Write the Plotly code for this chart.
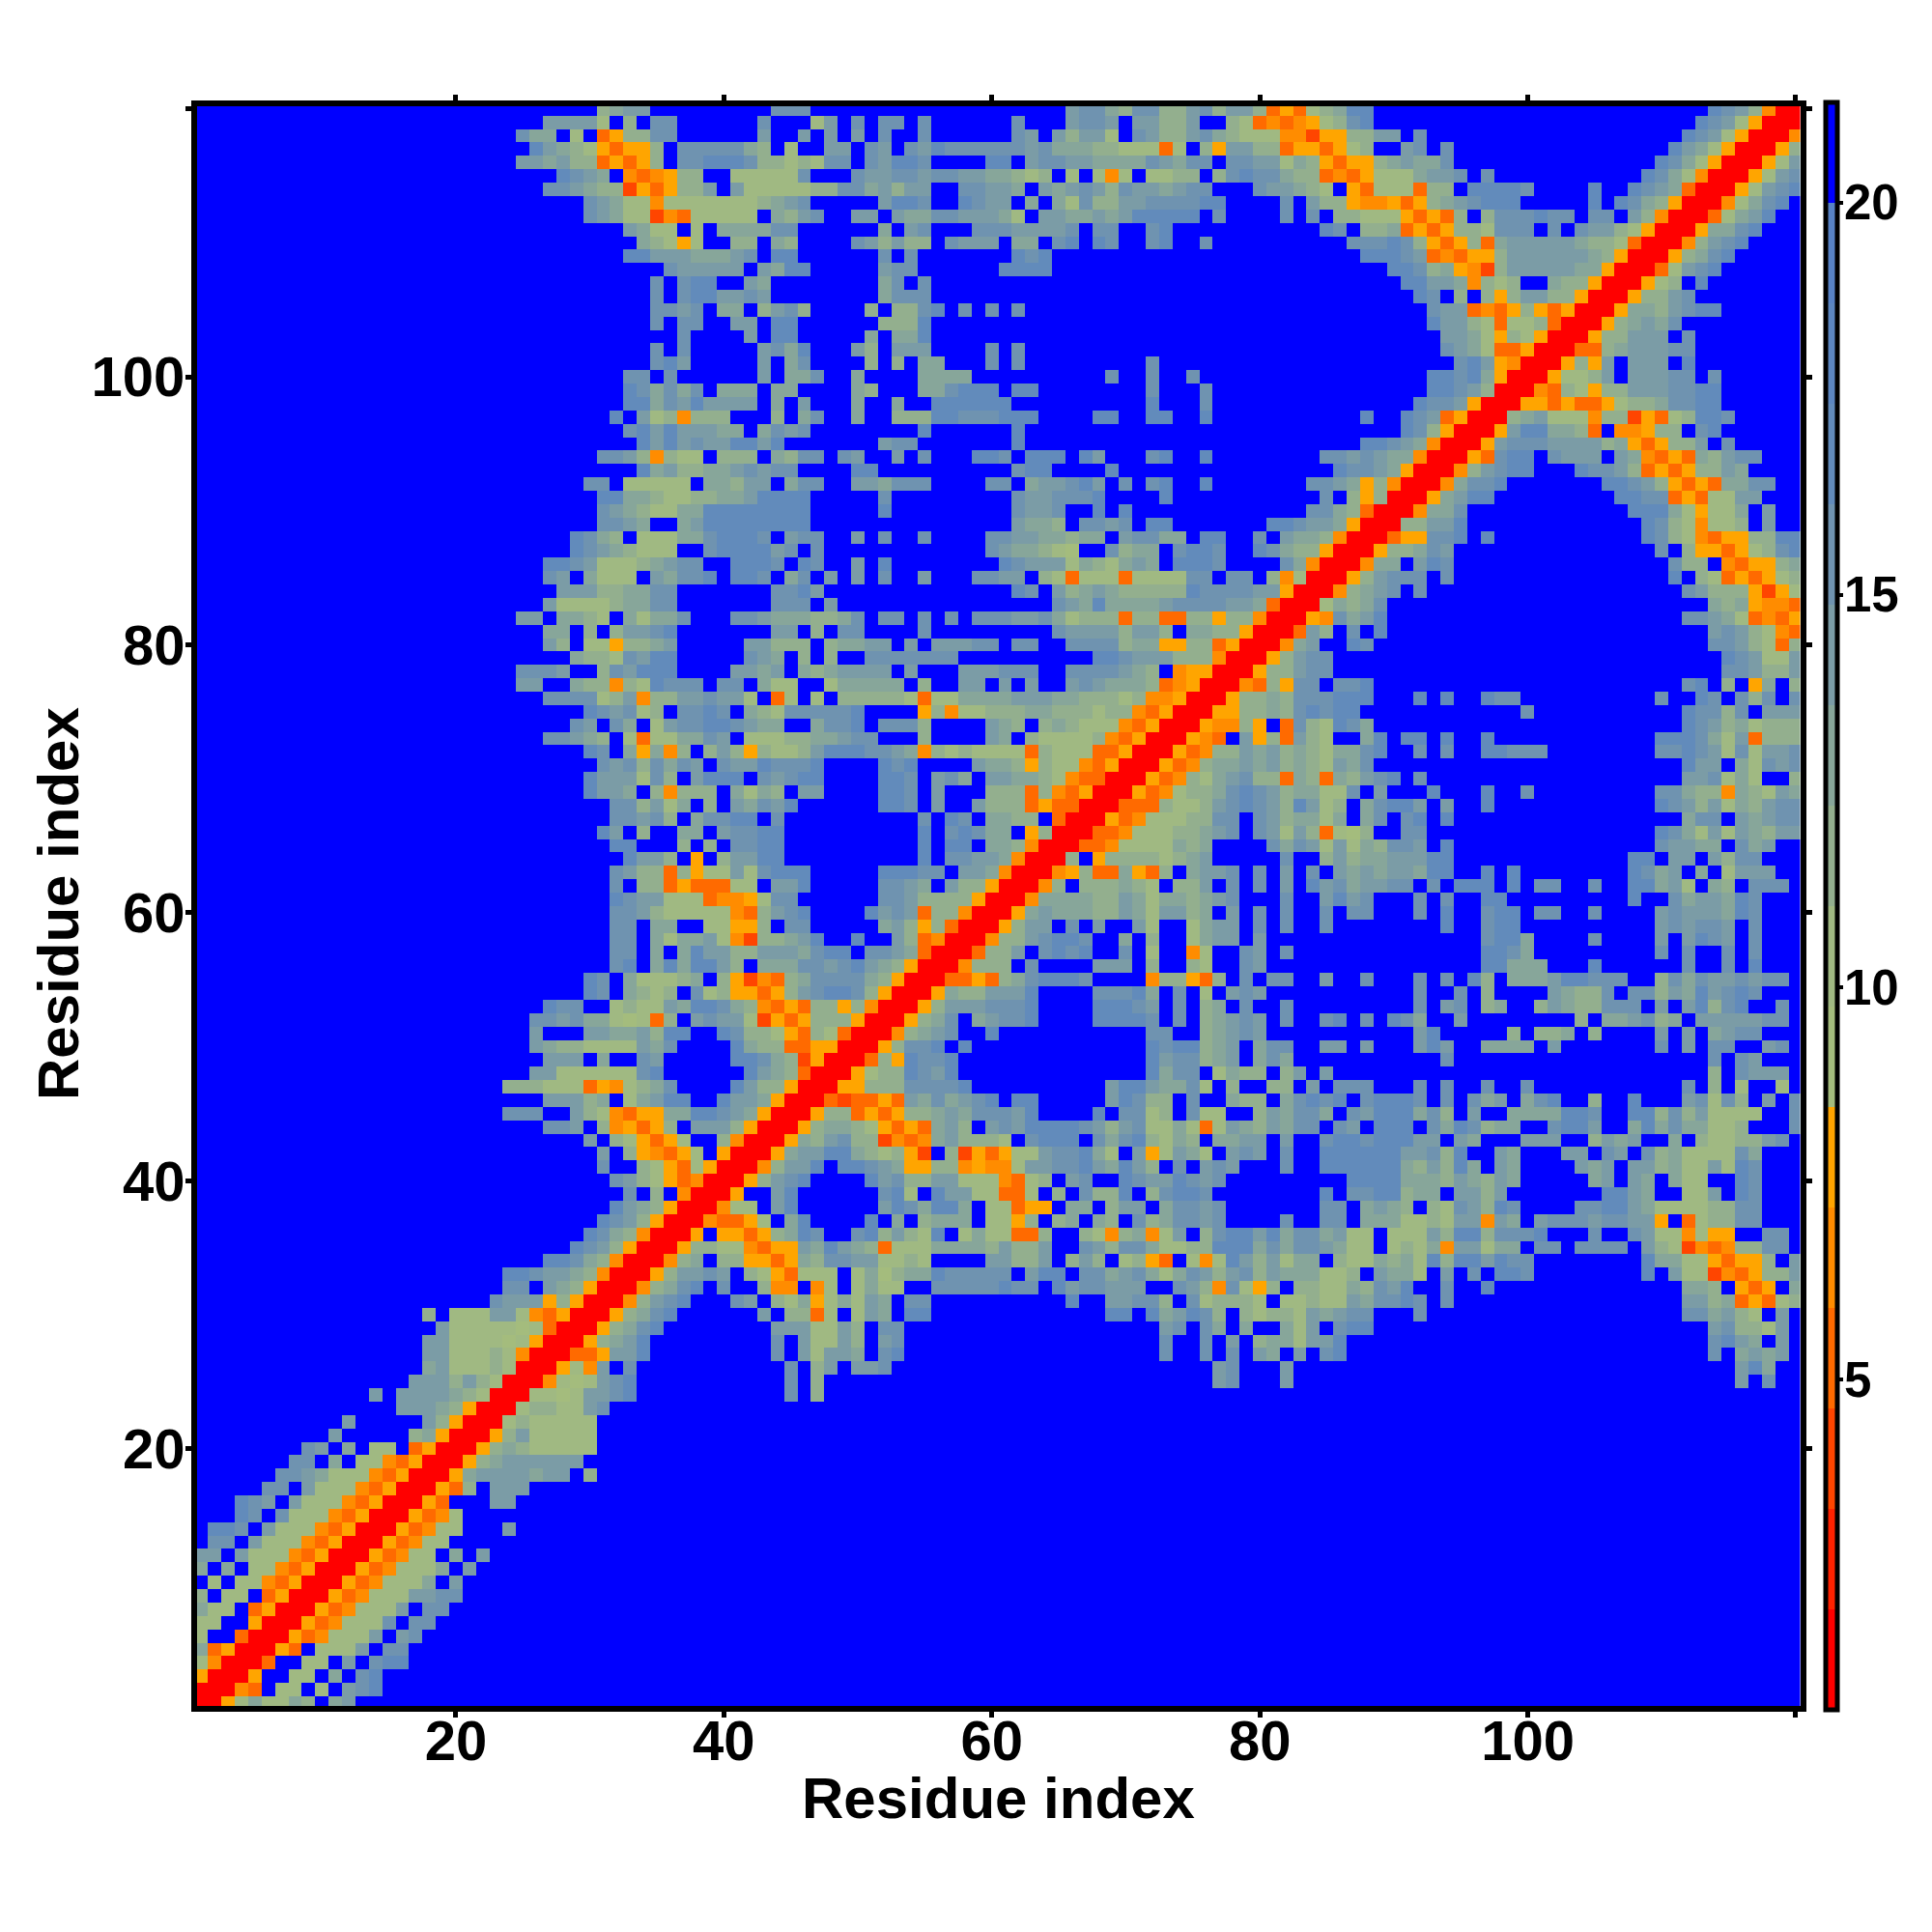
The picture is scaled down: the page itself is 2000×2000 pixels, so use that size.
import plotly.graph_objects as go

N_RESIDUES = 120
TICK_VALUES = [20, 40, 60, 80, 100, 120]
TICK_LABELS = ["20", "40", "60", "80", "100", ""]
BAR_TICKS = [5, 10, 15, 20]
AXIS_TITLE = "Residue index"

# distance band for each level 0..f (band centres, angstrom)
LEVEL_VALUES = [1.44, 2.72, 4.0, 5.28, 6.56, 7.84, 9.12, 10.4, 11.68, 12.96, 14.24, 15.52, 16.8, 18.08, 19.36, 20.64]
LEVEL_COLORS = ["#ff0000", "#ff2200", "#ff4500", "#ff6a00", "#ff8c00", "#ffa500",
                "#a4bc7d", "#a0b982", "#93af8e", "#87a69a", "#7b9ca6", "#6f93b0",
                "#628bbb", "#5c86c0", "#5882c5", "#0000ff"]

# row (y residue) -> "first_column:levels" for the part of the symmetric map with x <= y; anything else is level f
ROW_CELLS = {
120: "31:89aa 44:bbb 66:abb9 70:8bb88ab8aa8353789cc 114:cba8400",
119: "27:aaaa7 32:f8f 35:bb 43:b 47:7a 50:b 52:bb 55:b 62:b 66:abba 71:aa88aff873434578bc 113:cba7500",
118: "25:b99f7f3588bb 43:a 46:a 48:a 50:a 52:b 55:b 62:ba 65:a8aa7 71:ba88ab987774425588aafb 112:cba7500",
117: "26:ca98753558fbbbbb98f7ffaafbafba 56:cbbbbbbab99988 70:77737f85aa883553578ffabfb 111:ca97500",
116: "25:aa9a8835358fbbcccb88787bbfbaccb 60:cc 62:fabbaa99 70:99ba9bbfbbaa798 85:5355 89:89a99b 110:cb97500",
115: "28:cba9f4345 37:88ff77777bfff 50:baabbabbaa99 62:878f7f74 70:7f7788f8bcbb988 85:345 86:43 88:5 89:7779aabfb 109:cb97400",
114: "27:bba988253588af 41:a77777 47:88bb9a8aa 56:ffbbaa9fa9aba8 70:baa9abb 80:baa987f5377738 93:88fccccb 105:c 108:cba9300",
113: "30:ba977477777777 43:89ab 52:acc 55:bffcbaafa 63:9f97b88 70:aabbbbcc 82:bfa88 87:54453 92:589abccc 105:c 107:cb98500",
112: "30:ba97724377777 43:f98ab 50:aafa99bbaaa97fa 65:a99a9 70:accccc 76:fb 82:bfbf88777535 94:38f8bbbcbb 105:bbfa84 111:00",
111: "33:a977f7f9999bb 52:9fab 59:bbbaaaabfbb 72:bc 85:cbf889 91:35358 96:87bbbfbfbaa87 109:500",
110: "34:9875 38:7ff88f98 50:ba8a88fbaaa 61:f99fbcfcb 72:bc 76:b 87:bbbcb85 94:358 97:39aaaaa988 107:7300",
109: "33:ccaaa999ab 43:fcc 52:bfb 62:cbc 88:cccba3435 97:58aaaaaa9 106:8500",
108: "36:baaaaafa9cc 52:abb 61:cccc 90:ccb89 95:5 96:42 98:8aaaaa99 106:500",
107: "35:bfbccffa9 52:9bfb 91:cc 93:aa94 97:878ff988 105:500",
106: "35:bfbccaaba 52:9bbb 92:cbf8f858aa88 104:500",
105: "35:bbabf99f8ab8 51:8f88bc 58:b 60:b 62:b 93:baa3435 100:8535 104:00",
104: "35:bfbb 41:aafcc 52:888c 93:caa87 98:37783 103:00",
103: "37:b 42:afcc 51:9f99c 94:aa9758 100:7500",
102: "35:bfb 43:ab9c 50:a8faaa 60:b 62:b 94:ba97335 101:00",
101: "35:bca 43:af9b 51:8f8f99 60:b 62:b 72:b 95:bca54 100:00",
100: "33:bbfb 43:af99b 50:9 55:9999 69:b 72:b 75:b 93:ccbc95 99:00",
99: "33:cb9b9bf999f99 50:98 55:99bccc 62:cc 72:b 76:b 93:ccba8 98:00",
98: "33:cc9bacaaaaf9fa 50:9 53:9 56:cccccc 72:c 76:b 92:cbba5 97:00",
97: "32:cfa78 37:4888 44:8f9b 50:9 53:888ccbbbccc 68:cc 72:cc 76:c 88:c 91:cba3 95:500",
96: "33:bcacaaa99f9bab 55:c 62:c 91:cb85 95:00",
95: "34:cacabaaccac 52:abb 62:c 88:ccba94 94:00",
94: "31:bba848 37:77f888f98bb 49:ba 53:a 55:b 59:ccb 63:ccc 67:ca 72:bc 76:c 85:bbaba994 93:00",
93: "34:c9a88 39:99ababb 50:cc 62:bcc 69:c 86:cbba95 92:00",
92: "30:bbf77777f998aaf9bb 50:aa9bbb 60:bbf9aabcaf 70:b 72:bc 76:c 84:bba95 89:84 91:00",
91: "31:cc9987788 40:99acccc 52:b 62:baabbbc 73:c 85:bf85 89:8 90:00",
90: "31:ba98 35:7799cccccccc 52:c 62:baab 68:c 70:c 84:bb983 89:00",
89: "31:bba9ff9a 39:cccccccc 62:a998fbba 70:bfcc 81:ccbaa95 88:00",
88: "29:cb98f7779 38:9bcccbfabb 50:a 52:b 55:b 60:bbaa9989 68:9f 70:abb99fcc 80:b 82:a9984 87:00",
87: "29:cba98 34:777ff 39:bccccabfb 60:ba99876ffb 70:899fbccb 80:cb98 84:85 86:00",
86: "27:ccba7778 35:9abbff 41:cccbfcb 50:a 52:c 61:cbaaa7987 70:9a9fcccb 82:b94 85:00",
85: "27:baf9777fa9bbcf 41:ccbf9bfa 50:a 52:b 55:a 59:bbaaf8737 68:77 70:37777bbfbbf84700",
84: "28:aaa88 33:99bb 44:bbca 62:cb 65:a89a9 70:88888cbbbbaa5 83:00",
83: "27:a7777 32:899bb 44:bbbfa 65:ba9c9 70:999abbbbaa93 82:00",
82: "25:aaf99 30:87f979 36:9b 41:bba9 45:998 48:89bf 52:bbfbfbfbbb 62:aab9 66:7888 70:388338858 79:84 81:00",
81: "27:99f8f8aabc 44:aaf8fbb 55:b 65:baaaa 70:8aa8f99885 80:00",
80: "27:a8f775889a 42:aa888f899aafa 55:f 56:aaabb 62:bb 66:bbbb 70:89955 75:88 77:35 79:00",
79: "29:9887bacc 42:ba9f8f8 49:ffbbbbbbb 68:cc 70:baaa888 77:4 78:00",
78: "25:bbbaff8baccc 41:aa9af989 49:aaaafa 55:fffaaabbb 66:bbbb 70:a98f4 75:55 77:00",
77: "25:aaff9884 33:87cbbbfbbf 43:977ff7 49:99999f8ffaafafaf 66:aba9 70:9983 74:45 76:00",
76: "27:bbbb78a48 36:8aabaa7 44:37f7f 49:888887 55:3 56:77 58:9999 62:aaa99 67:888 70:78445 75:00",
75: "30:cbab78f 37:bbcbf98 44:7bbbbbc 55:584 58:7788 62:899888 68:78 70:84 72:35 74:00",
74: "29:bafb9f7a8 37:bbccba 43:99ff9bbcf 52:bbb8 60:a98f8 65:98777 70:435 73:00",
73: "27:bba98f7 34:377 37:99baf7 43:7788 47:99abb 55:8 60:a9f87777 68:84 70:35 72:00",
72: "30:cbf95948f8a85 43:8778accc 51:bba94 56:87877 61:77 63:38777 68:335 71:00",
71: "31:bab8b9baf 40:baa 43:cbbbc 52:cbc 59:a998 63:587 66:7 67:435 70:00",
70: "30:caaa7b8f 38:accc 42:fbabcc 52:ccbfab9f 60:aa998 65:7 66:433 69:00",
69: "30:caa9f84 37:888f97 43:98faa 52:ccbfa 60:888 63:38 65:435 68:00",
68: "32:bb8a79f8f 41:a9bac 52:ccbfa 59:a888 63:3533 67:00",
67: "32:bbab8f9 39:bbcc 43:fb 55:b 57:cb 60:9988f3 66:00",
66: "31:caf8ff99f 40:abbcc 55:c 57:bcb 60:99f58 65:00",
65: "32:cc 37:8f8f 41:bbcc 55:c 57:cc 60:9984 64:00",
64: "33:caa8f5f8 41:aacc 55:c 57:bbaa9 62:4 63:00",
63: "32:ba883857 40:7a7bccc 52:cccbb 58:aa94 62:00",
62: "32:bf88353337 42:7faac 52:bba9fa88 60:5 61:00",
61: "32:cbaa7773445 43:7bb 52:bba8888 59:5 60:00",
60: "32:bba877777 41:438abc 51:cabab 55:38 57:84 59:00",
59: "32:bbf99ff7755 43:8fbb 52:9a85 56:83 58:00",
58: "32:bbf979 38:9a7 41:4288 45:9ac 50:c 53:a83 56:4 57:00",
57: "32:bbf9f9caa88 43:aaa9bccfbba9 55:3 56:00",
56: "32:bcf9c9cca8f 43:999bbabca98 54:5 55:00",
55: "30:cbf97778 38:9f8 41:5243 45:89bbbb98 53:5 54:00",
54: "30:cbf987 36:8fb78 41:5535 45:8abccb85 53:00",
53: "27:cbbff7877 36:a9ccb98 43:4353 47:88584 52:00",
52: "26:bbab9976 34:738fabaa77 43:2535 47:8885 51:00",
51: "26:afffaa99a8 36:ccffcb88 44:753 47:873 50:00",
50: "26:a98877 32:77a9bffffc 42:988 45:33 47:55 49:00",
49: "27:aaaf9ffba 41:ccb98 46:25 48:00",
48: "26:aa777777bc 42:ca983 47:00",
47: "24:888777354 33:789b 41:ca885 46:00",
46: "27:aaa89f79acc 40:caa95 45:00",
45: "24:bbbffa87 32:43559 37:9ccba95 44:00",
44: "27:bbaf8453 35:58faaa85 43:00",
43: "30:af87 34:5357 38:ff8 41:4 42:00",
42: "31:af8 34:5 35:435 38:7f5 41:00",
41: "31:b 34:87537 39:5 40:00",
40: "32:ba87 36:534 39:00",
39: "33:bf8f4 38:00",
38: "32:ca98 36:5 37:00",
37: "31:cba8 35:5 36:00",
36: "30:cb98 34:4 35:00",
35: "29:cba8 33:5 34:00",
34: "27:ccb98 32:4 33:00",
33: "24:ccb 27:aa98 31:4 32:00",
32: "24:bbf 27:a98 30:5 31:00",
31: "23:baaa 27:585 30:00",
30: "18:8 20:777aa7 26:435 29:00",
29: "19:a77777 25:67 27:3 28:00",
28: "18:aa7777 24:67 26:5 27:00",
27: "18:aa777 23:87 25:4 26:00",
26: "18:9a77 22:78 24:73 25:00",
25: "17:aaa8a87 24:00",
24: "14:a 16:aaaa98 22:74 23:00",
23: "16:aaa98 21:5 22:00",
22: "12:a 18:a8 20:5 21:00",
21: "11:a 17:89 19:5 20:00",
20: "9:baf9f 14:77f35 19:00",
19: "8:bbf9f 13:77 15:435 18:00",
18: "7:bba9 11:777 14:435 17:00",
17: "6:bbfa777 13:435 16:00",
16: "4:cbafa 9:777 12:435 15:00",
15: "4:cbfb777 11:435 14:00",
14: "2:ccbfa777 10:435 13:00",
13: "2:bbfa777 9:435 12:00",
12: "1:aafa777 8:435 11:00",
11: "1:9f9f77 7:435 10:00",
10: "1:f7f77 6:435 9:00",
9: "1:8f77f35 8:00",
8: "1:977f35 7:00",
7: "1:77ff5 6:00",
6: "1:7ff3 5:00",
5: "1:935 4:00",
4: "1:74 3:00",
3: "1:5 2:00",
2: "1:00",
1: "1:0",
}

level = [[15] * N_RESIDUES for _ in range(N_RESIDUES)]
for row, text in ROW_CELLS.items():
    for segment in text.split():
        first, chars = segment.split(":")
        for offset, ch in enumerate(chars):
            col = int(first) + offset
            if col <= row:
                level[row - 1][col - 1] = int(ch, 16)
                level[col - 1][row - 1] = int(ch, 16)

z = [[LEVEL_VALUES[v] for v in line] for line in level]
residues = list(range(1, N_RESIDUES + 1))

colorscale = []
for i, color in enumerate(LEVEL_COLORS):
    colorscale.append([i / 16, color])
    colorscale.append([(i + 1) / 16, color])

W = 2000
LEFT, RIGHT, TOP, BOTTOM = 204, 1863.5, 110, 1766
BAR_TOP, BAR_BOTTOM = 105.5, 1769.5
Z_MIN, Z_MAX = 0.8, 21.28
bold = dict(family="Liberation Sans", color="black", weight=700)

fig = go.Figure(go.Heatmap(
    x=residues, y=residues, z=z, zmin=Z_MIN, zmax=Z_MAX, colorscale=colorscale,
    colorbar=dict(
        thickness=12, thicknessmode="pixels", lenmode="fraction",
        len=(BAR_BOTTOM - BAR_TOP) / W, x=1889.5 / W, xref="paper", xanchor="left",
        y=1 - BAR_BOTTOM / W, yref="paper", yanchor="bottom", xpad=0, ypad=0,
        outlinewidth=5, outlinecolor="black", borderwidth=0,
        tickmode="array", tickvals=BAR_TICKS, ticks="outside", ticklen=4, tickwidth=4,
        tickcolor="black", showticklabels=False,
    ),
))
axis = dict(
    tickmode="array", tickvals=TICK_VALUES, ticktext=TICK_LABELS,
    showgrid=False, zeroline=False, showline=True, linecolor="black", linewidth=6,
    mirror="ticks", ticks="outside", ticklen=6, tickwidth=5, tickcolor="black",
    tickfont=dict(size=58, **bold), automargin=False,
)
annotations = [
    dict(text=AXIS_TITLE, xref="paper", yref="paper", x=(LEFT + RIGHT) / 2 / W, y=1 - 1861 / W,
         xanchor="center", yanchor="middle", showarrow=False, font=dict(size=60, **bold)),
    dict(text=AXIS_TITLE, xref="paper", yref="paper", x=60 / W, y=1 - 936 / W, textangle=-90,
         xanchor="center", yanchor="middle", showarrow=False, font=dict(size=60, **bold)),
]
for value in BAR_TICKS:
    frac = (value - Z_MIN) / (Z_MAX - Z_MIN)
    annotations.append(dict(
        text=str(value), xref="paper", yref="paper", x=1907 / W,
        y=(1 - BAR_BOTTOM / W) + frac * (BAR_BOTTOM - BAR_TOP) / W,
        xanchor="left", yanchor="middle", showarrow=False, font=dict(size=51, **bold)))
fig.update_layout(
    width=W, height=W, autosize=False, margin=dict(l=0, r=0, t=0, b=0),
    paper_bgcolor="white", plot_bgcolor="white", showlegend=False,
    xaxis=dict(axis, range=[0.68, 120.33], domain=[LEFT / W, RIGHT / W], ticklabelstandoff=-26),
    yaxis=dict(axis, range=[0.8, 120.2], domain=[1 - BOTTOM / W, 1 - TOP / W], ticklabelstandoff=-11),
    annotations=annotations,
)
fig.write_html("out.html", config={"displayModeBar": False},
               post_script="document.body.style.margin='0';")
